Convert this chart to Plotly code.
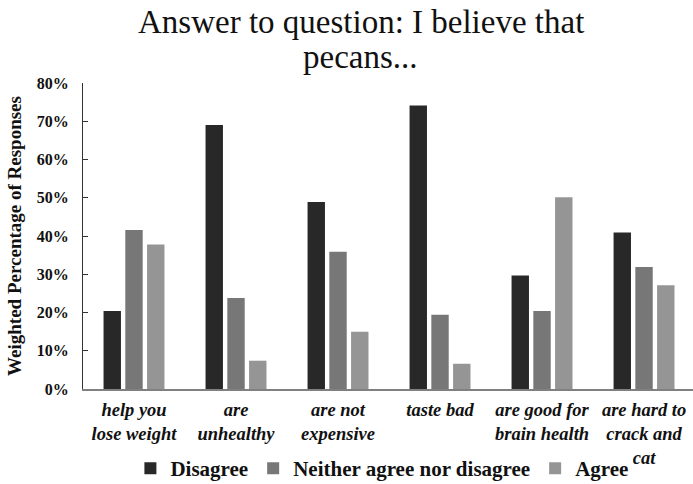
import plotly.graph_objects as go

categories = ["help you<br>lose weight", "are<br>unhealthy", "are not<br>expensive",
              "taste bad<br> ", "are good for<br>brain health", "are hard to<br>crack and<br>cat"]
disagree = [20.4, 69.0, 48.9, 74.1, 29.7, 40.9]
neither = [41.6, 23.8, 35.9, 19.4, 20.4, 31.9]
agree = [37.8, 7.4, 15.0, 6.6, 50.1, 27.1]
series_names = ["Disagree", "Neither agree nor disagree", "Agree"]
colors = ["#282828", "#777777", "#959595"]
yticks = [0, 10, 20, 30, 40, 50, 60, 70, 80]
title_lines = ["Answer to question: I believe that", "pecans..."]

serif = "Liberation Serif"
ink = "#111111"

fig = go.Figure()
for name, vals, col in zip(series_names, [disagree, neither, agree], colors):
    fig.add_trace(go.Bar(x=categories, y=[v / 100 for v in vals], name=f"<b>{name}</b>",
                         marker=dict(color=col, line=dict(width=0))))

# two-line title as annotations (tight line spacing like the reference)
fig.add_annotation(text=title_lines[0], xref="paper", yref="paper", x=0.455, y=1.20,
                   xanchor="center", yanchor="middle", showarrow=False,
                   font=dict(family=serif, size=33, color=ink))
fig.add_annotation(text=title_lines[1], xref="paper", yref="paper", x=0.455, y=1.085,
                   xanchor="center", yanchor="middle", showarrow=False,
                   font=dict(family=serif, size=33, color=ink))

fig.update_layout(
    width=693, height=484,
    margin=dict(l=83, r=0, t=83, b=95, autoexpand=False),
    paper_bgcolor="white", plot_bgcolor="white",
    barmode="group", bargap=0.36, bargroupgap=0.2,
    font=dict(family=serif, color=ink),
    showlegend=True,
    legend=dict(orientation="h", x=0.49, xanchor="center", y=-0.26, yanchor="middle",
                font=dict(family=serif, size=21, color=ink),
                itemwidth=30, tracegroupgap=0),
    xaxis=dict(showline=True, linecolor="#808080", linewidth=2, ticks="",
               tickmode="array", tickvals=categories,
               ticktext=[f"<b><i>{c}</i></b>" for c in categories],
               tickfont=dict(family=serif, size=18.5, color=ink),
               ticklabelstandoff=3,
               showgrid=False, range=[-0.5, 5.48], automargin=False),
    yaxis=dict(range=[0, 0.8], tickvals=[t / 100 for t in yticks],
               ticktext=[f"<b>{t}%</b>" for t in yticks],
               tickfont=dict(family=serif, size=16, color=ink),
               ticklabelstandoff=10,
               showline=True, linecolor="#333333", linewidth=1.2, showgrid=False,
               ticks="inside", ticklen=5, tickcolor="#333333", tickwidth=1,
               zeroline=False, automargin=False,
               title=dict(text="<b>Weighted Percentage of Responses</b>",
                          font=dict(family=serif, size=19, color=ink), standoff=10)),
)
fig.write_html("out.html")
